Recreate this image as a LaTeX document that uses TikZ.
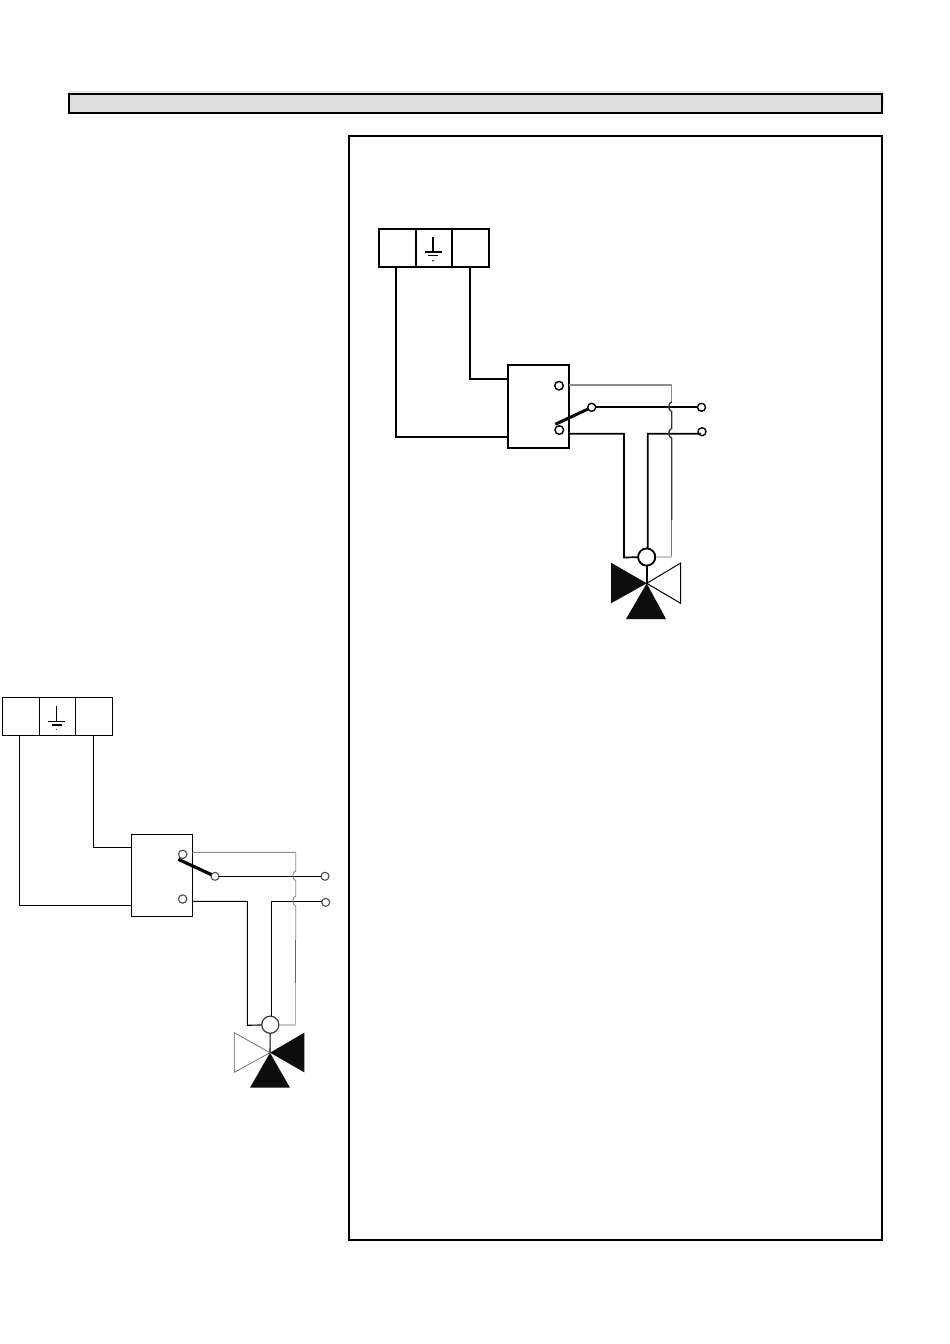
\documentclass[tikz,border=0pt]{standalone}
\definecolor{headfill}{HTML}{DDDDDD}
\definecolor{headshade}{HTML}{E6E6E6}
\definecolor{wiregrey}{HTML}{8C8C8C}
\definecolor{wirepale}{HTML}{C8C8C8}
\tikzset{
  framebox/.style={draw=black,line width=2pt},
  cellbox/.style={draw=black,rectangle,inner sep=0pt,outer sep=0pt,minimum height=38pt,minimum width=#1},
  relaybox/.style={draw=black,rectangle,inner sep=0pt,outer sep=0pt,minimum width=61pt,minimum height=82.5pt},
  port/.style={draw=black,fill=white,circle,inner sep=0pt,outer sep=0pt,minimum size=8.6pt},
  hub/.style={draw=black,fill=white,circle,inner sep=0pt,outer sep=0pt,minimum size=17pt},
  heavy/.style={line width=1.7pt},
  light/.style={line width=1.1pt},
  valvefill/.style={fill=black!95},
  valveopen/.style={draw=black,fill=white,line join=miter},
  arm/.style={line cap=butt}
}
\begin{document}
\begin{tikzpicture}[x=1pt,y=-1pt]
\useasboundingbox (0,0) rectangle (950,1344);
\fill[white] (0,0) rectangle (950,1344);
% header bar
\fill[headshade] (69,90.7) rectangle (884,108);
\draw[framebox,fill=headfill] (69,94) rectangle (882,112.7);
% main frame
\draw[framebox] (349.3,136) rectangle (882,1240);

% ---------- right-hand diagram ----------
\begin{scope}[heavy]
\node[cellbox=37pt] (rt1) at (397.2,248) {};
\node[cellbox=36pt] (rt2) at (433.7,248) {};
\node[cellbox=37.3pt] (rt3) at (470.3,248) {};
\draw (433,237.3) -- (433,251.7);
\draw (424.7,251.7) -- (442,251.7);
\draw (428,255.5) -- (438,255.5);
\fill (433,260.7) circle (0.9pt);
\node[relaybox] (rsw) at (538.5,406.5) {};
\node[port,line width=1.4pt] (rc1) at (559,385.7) {};
\node[port,line width=1.4pt] (rc2) at (559.3,430) {};
\node[port,line width=1.4pt,minimum size=8pt] (rc3) at (591.7,407.3) {};
\node[port,line width=1.4pt,minimum size=8pt] (ro1) at (701.5,407.3) {};
\node[port,line width=1.4pt,minimum size=8pt] (ro2) at (702,431.7) {};
\node[hub] (rhub) at (646.7,557) {};
\coordinate (rv) at (646.7,583.3);
\coordinate (rp1) at (508,437);
\coordinate (rp2) at (508,379);
\coordinate (rp3) at (569,385);
\coordinate (rp4) at (569,433.7);
\coordinate (rj) at (647.7,433.7);
\coordinate (rturn) at (671.7,557);
% wires
\draw ([xshift=-1.2pt]rt1.south) |- (rp1);
\draw (rt3.south) |- (rp2);
\draw (rc3) -- (ro1);
\draw (rp4) -| (624,557.5) -- (rhub);
\draw (rhub.north -| rj) -- (rj) -- (ro2.south west |- rj) -- (ro2);
\draw[line width=3pt,arm] (555.3,424.3) -- (rc3);
\draw[wiregrey,line width=1.4pt] (rp3) -- (671.7,385) -- (671.7,401.7);
\draw[black!80,line width=1.3pt] (671.7,401.7) .. controls (667.8,403.5) and (667.8,410) .. (671.7,411.7) -- (671.7,428.3)
  .. controls (667.8,430) and (667.8,436.5) .. (671.7,438.3) -- (671.7,520);
\draw[black!55,line width=1.4pt] (671.7,520) -- (671.7,556);
\draw[wirepale,line width=1.4pt] (671.7,557) -- (rturn) -- (rhub);
% valve
\fill[valvefill] (rv) -- (611,562.7) -- (611,603.3) -- cycle;
\fill[valvefill] (rv) -- (626,619) -- (666,619) -- cycle;
\draw[valveopen,line width=1pt] (rv) -- (680.7,563) -- (680.7,603.3) -- cycle;
\draw (rhub) -- (rv);
\node[hub] at (rhub) {};
\end{scope}

% ---------- left-hand diagram ----------
\begin{scope}[light]
\node[cellbox=37pt] (lt1) at (20.8,716.3) {};
\node[cellbox=36pt] (lt2) at (57.3,716.3) {};
\node[cellbox=37pt] (lt3) at (93.8,716.3) {};
\draw (56.3,706) -- (56.3,720.7);
\draw (48,721.3) -- (65.3,721.3);
\draw (52,725) -- (62,725);
\fill (56.3,729.3) circle (0.6pt);
\node[relaybox] (lsw) at (161.8,875.3) {};
\node[port,draw=black!70,minimum size=8.4pt] (lc1) at (182.7,854.3) {};
\node[port,draw=black!70,minimum size=8.4pt] (lc2) at (182.7,899) {};
\node[port,draw=black!70,minimum size=8pt] (lc3) at (215,876.3) {};
\node[port,draw=black!70,minimum size=8pt] (lo1) at (325,876.3) {};
\node[port,draw=black!70,minimum size=8pt] (lo2) at (325.7,902.3) {};
\node[hub,draw=black!75] (lhub) at (270.3,1024.7) {};
\coordinate (lv) at (270,1052.7);
\coordinate (lp1) at (131.3,905.3);
\coordinate (lp2) at (131.3,847.3);
\coordinate (lp3) at (192.3,852.3);
\coordinate (lp4) at (192.3,901.3);
\coordinate (lj) at (271.3,901.3);
\coordinate (lturn) at (295.7,1024.7);
% wires
\draw ([xshift=-1.5pt]lt1.south) |- (lp1);
\draw (lt3.south) |- (lp2);
\draw (lc3) -- (lo1);
\draw (lp4) -| (247.3,1025.3) -- (lhub);
\draw (lhub.north -| lj) -- (lj) -- (lo2.west |- lj);
\draw[line width=3.2pt,arm] (178.3,859.3) -- (lc3);
\draw[wiregrey,line width=0.9pt] (lp3) -- (295.7,852.3) -- (295.7,870.7)
  .. controls (291.8,872.5) and (291.8,879) .. (295.7,880.7) -- (295.7,896)
  .. controls (291.8,898) and (291.8,904.5) .. (295.7,906) -- (295.7,940);
\draw[black!60,line width=0.9pt] (295.7,940) -- (295.7,983);
\draw[wiregrey!70,line width=1.2pt] (295.7,983) -- (295.7,1024);
\draw[wirepale,line width=1.6pt] (lturn) -- (lhub);
% valve
\fill[valvefill] (lv) -- (304.3,1032.7) -- (304.3,1072.3) -- cycle;
\fill[valvefill] (lv) -- (250,1087.7) -- (290,1087.7) -- cycle;
\draw[draw=black!60,fill=white,line width=0.7pt] (lv) -- (234.3,1032.7) -- (234.3,1072.3) -- cycle;
\draw (lhub) -- (lv);
\node[hub,draw=black!75] at (lhub) {};
\end{scope}
\end{tikzpicture}
\end{document}
